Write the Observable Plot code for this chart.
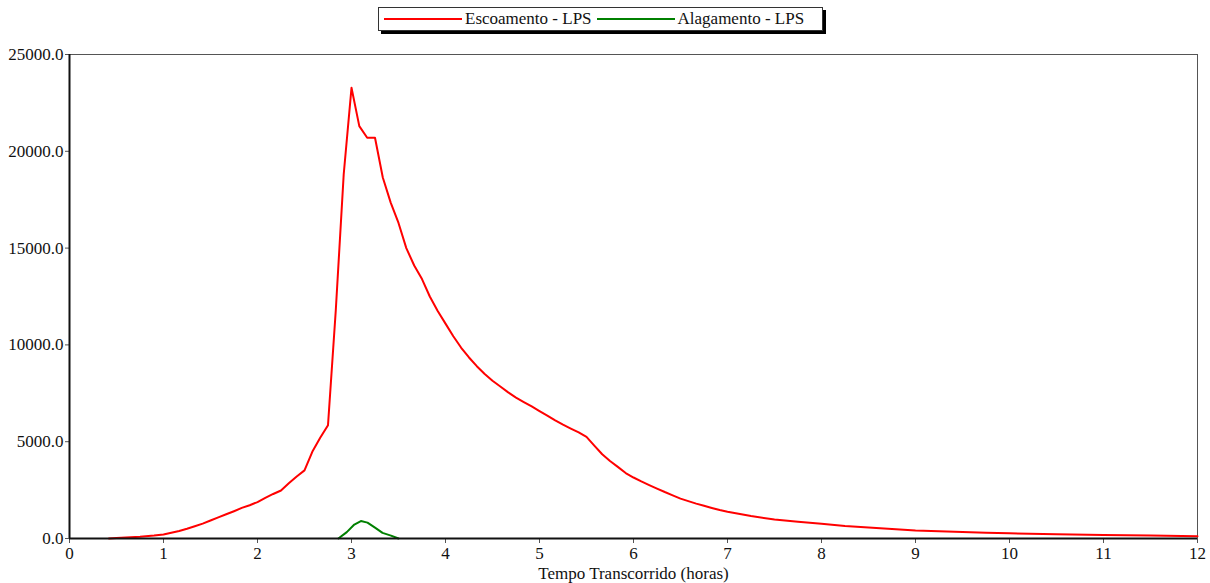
<!DOCTYPE html>
<html>
<head>
<meta charset="utf-8">
<script src="https://cdn.jsdelivr.net/npm/d3@7"></script>
<script src="https://cdn.jsdelivr.net/npm/@observablehq/plot@0.6"></script>
<style>
  html, body { margin: 0; padding: 0; background: #fff; }
  #legend { position: relative; width: 1210px; height: 40px; font-family: "Liberation Serif", "Times New Roman", serif; font-size: 17px; color: #111; }
  #legend .box { position: absolute; left: 378px; top: 7px; width: 443px; height: 22px; border: 1px solid #333; background: #fff; box-shadow: 3px 3px 0 #000; display: flex; align-items: center; white-space: nowrap; }
  #legend .sw { display: inline-block; width: 78px; height: 2px; margin: 0 3px 0 5px; }
  #chart svg { display: block; }
  #chart svg, #chart svg text { font-family: "Liberation Serif", "Times New Roman", serif !important; font-size: 17px; }
</style>
</head>
<body>
<div id="legend"></div>
<div id="chart"></div>
<script>
const seriesNames = ["Escoamento - LPS", "Alagamento - LPS"];
const seriesColors = ["#ff0000", "#008000"];

const escoamentoHours = [0.42,0.5,0.6,0.75,0.9,1.0,1.083,1.167,1.25,1.333,1.417,1.5,1.583,1.667,1.75,1.833,1.917,2.0,2.083,2.167,2.25,2.333,2.417,2.5,2.583,2.667,2.75,2.833,2.917,3.0,3.083,3.167,3.25,3.333,3.417,3.5,3.583,3.667,3.75,3.833,3.917,4.0,4.083,4.167,4.25,4.333,4.417,4.5,4.583,4.667,4.75,4.833,4.917,5.0,5.083,5.167,5.25,5.333,5.417,5.5,5.583,5.667,5.75,5.833,5.917,6.0,6.083,6.167,6.25,6.333,6.417,6.5,6.583,6.667,6.75,6.833,6.917,7.0,7.25,7.5,7.75,8.0,8.25,8.5,8.75,9.0,9.25,9.5,9.75,10.0,10.5,11.0,11.5,12.0];
const escoamentoLPS = [0,20,50,90,150,210,300,390,500,630,770,930,1090,1250,1410,1580,1720,1880,2100,2300,2480,2850,3200,3520,4480,5200,5850,11800,18800,23280,21300,20700,20700,18650,17350,16300,15000,14100,13400,12500,11750,11100,10450,9850,9350,8900,8500,8150,7850,7550,7280,7050,6820,6580,6350,6100,5880,5680,5480,5250,4800,4350,4000,3700,3380,3150,2950,2760,2580,2400,2230,2060,1930,1800,1690,1580,1470,1380,1160,980,860,760,650,570,490,415,370,330,300,270,220,180,150,120];

const alagamentoHours = [2.86,2.95,3.03,3.1,3.17,3.25,3.33,3.42,3.5];
const alagamentoLPS = [0,330,720,900,820,560,290,150,0];

const xTicks = [0,1,2,3,4,5,6,7,8,9,10,11,12];
const yTicks = [0,5000,10000,15000,20000,25000];
const xLabel = "Tempo Transcorrido (horas)";

const data = [
  ...escoamentoHours.map((h, i) => ({h, v: escoamentoLPS[i], s: seriesNames[0]})),
  ...alagamentoHours.map((h, i) => ({h, v: alagamentoLPS[i], s: seriesNames[1]}))
];

// legend
const box = document.createElement("div");
box.className = "box";
seriesNames.forEach((n, i) => {
  const sw = document.createElement("span");
  sw.className = "sw";
  sw.style.background = seriesColors[i];
  box.appendChild(sw);
  const t = document.createElement("span");
  t.textContent = n;
  box.appendChild(t);
});
document.getElementById("legend").appendChild(box);

const chart = Plot.plot({
  width: 1210,
  height: 543,
  marginTop: 14,
  marginLeft: 69,
  marginRight: 13,
  marginBottom: 45,
  style: {fontFamily: "'Liberation Serif', serif", fontSize: "17px", color: "#111", background: "#fff"},
  x: {domain: [0, 12]},
  y: {domain: [0, 25000]},
  color: {domain: seriesNames, range: seriesColors},
  marks: [
    Plot.frame({stroke: "#555", strokeWidth: 1}),
    Plot.axisY({ticks: yTicks, tickFormat: d => d.toFixed(1), tickSize: 4, tickPadding: 2, label: null, stroke: "#555"}),
    Plot.axisX({ticks: xTicks, tickFormat: d => String(d), tickSize: 5, tickPadding: 3, label: xLabel, labelAnchor: "center", labelArrow: "none", labelOffset: 40, stroke: "#555"}),
    Plot.line(data, {x: "h", y: "v", z: "s", stroke: "s", strokeWidth: 2}),
    Plot.ruleX([0], {stroke: "#111", strokeWidth: 2}),
    Plot.ruleY([0], {stroke: "#111", strokeWidth: 2})
  ]
});
document.getElementById("chart").appendChild(chart);
</script>
</body>
</html>
